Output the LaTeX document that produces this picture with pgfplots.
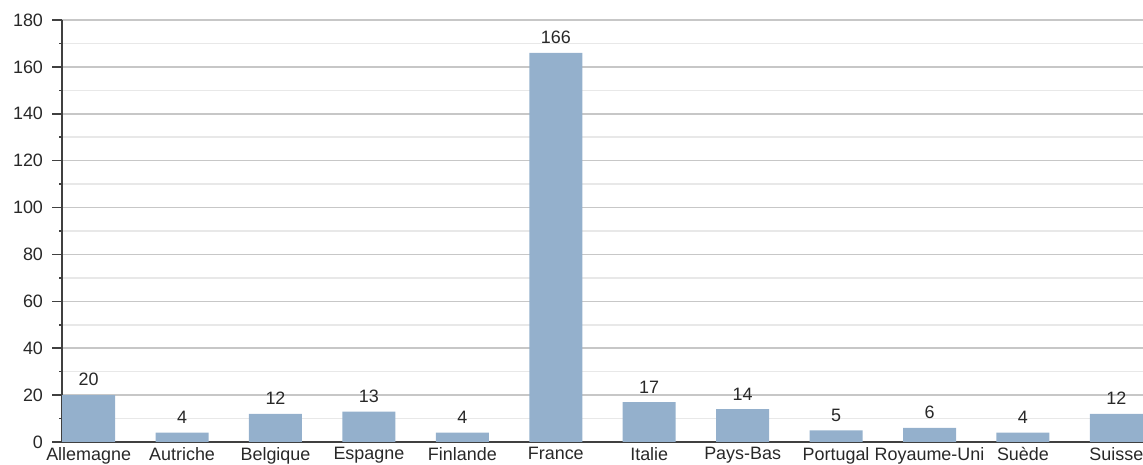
\documentclass[border=0pt]{standalone}
\usepackage{pgfplots}
\pgfplotsset{compat=1.18}
\usepackage{fontspec}
\setmainfont{Liberation Sans}
\definecolor{barc}{RGB}{148,176,204}
\definecolor{txt}{RGB}{40,40,40}
\begin{document}
\begin{tikzpicture}
\begin{axis}[
  name=ax,
  scale only axis,
  width=540.5bp, height=211bp,
  xmin=-0.285, xmax=11.285,
  ymin=0, ymax=180,
  ytick={0,20,...,180},
  minor ytick={10,30,...,170},
  xtick={0,...,11},
  xticklabels={Allemagne,Autriche,Belgique,Espagne,Finlande,France,Italie,Pays-Bas,Portugal,Royaume-Uni,Suède,Suisse},
  axis x line*=bottom,
  axis y line*=left,
  x axis line style={-, draw=black!75, line width=1bp},
  y axis line style={-, draw=black!75, line width=1bp},
  tick align=outside,
  major tick length=5bp,
  minor tick length=1.5bp,
  xtick style={draw=none},
  ytick style={draw=black!75, line width=0.8bp},
  minor tick style={draw=black!75, line width=0.8bp},
  ymajorgrids, yminorgrids,
  major grid style={draw=black!22, line width=0.8bp},
  minor grid style={draw=black!9, line width=0.8bp},
  tick label style={font=\fontsize{9}{10}\selectfont, text=txt},
  /pgf/number format/assume math mode=true,
  yticklabel style={xshift=-1bp},
  xticklabel style={yshift=6bp},
  ybar, bar width=26.5bp,
  nodes near coords,
  every node near coord/.append style={font=\fontsize{9}{10}\selectfont, text=txt, yshift=1bp},
  clip=false,
]
\addplot[fill=barc, draw=none] coordinates {
(0,20) (1,4) (2,12) (3,13) (4,4) (5,166) (6,17) (7,14) (8,5) (9,6) (10,4) (11,12)};
\end{axis}
\pgfresetboundingbox
\path[use as bounding box] ([shift={(-31bp,-11.5bp)}]ax.south west) rectangle ([shift={(0bp,10bp)}]ax.north east);
\end{tikzpicture}
\end{document}
